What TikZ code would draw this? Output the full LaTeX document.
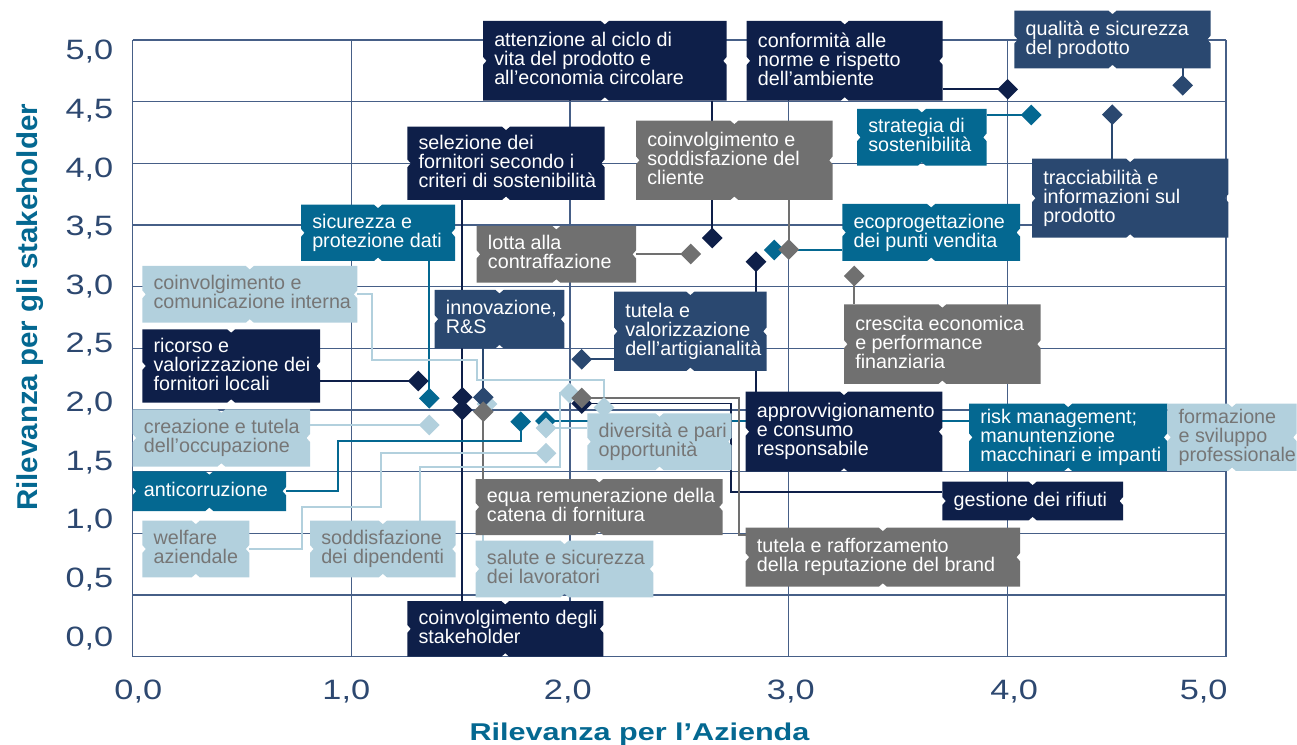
\documentclass[tikz,border=0pt]{standalone}
\usepackage{fontspec}
\setmainfont{Liberation Sans}
\usetikzlibrary{shapes.geometric,calc}
\pgfdeclarelayer{grid}\pgfdeclarelayer{lines}\pgfdeclarelayer{boxes}
\pgfsetlayers{grid,lines,boxes,main}
\definecolor{cNavy}{RGB}{14,31,73}
\definecolor{cSlate}{RGB}{42,72,112}
\definecolor{cTeal}{RGB}{4,104,145}
\definecolor{cGray}{RGB}{112,112,112}
\definecolor{cLight}{RGB}{178,208,221}
\definecolor{cLightTxt}{RGB}{118,118,118}
\definecolor{cGrid}{RGB}{70,95,135}
\definecolor{cTick}{RGB}{45,72,112}
\newcommand\boxfont{\fontsize{14.8pt}{14.25pt}\selectfont\lineskiplimit=-20pt}
\newcommand\tickfont{\fontsize{21pt}{21pt}\selectfont}
\newcommand\bstrut{\rule[-0.21em]{0pt}{0.94em}}
\newcommand\mkbox[7]{%
 \node[boxn, minimum width={(#5-#3)*0.75pt}, minimum height={(#6-#4)*0.75pt}] (#1) at (#3,#4) {};
 \begin{pgfonlayer}{boxes}
 \fill[#2] (#1.north west) -- ([xshift=-3pt]#1.north) -- ([yshift=-2.6pt]#1.north) -- ([xshift=3pt]#1.north)
   -- (#1.north east) -- ([yshift=3pt]#1.east) -- ([xshift=-2.6pt]#1.east) -- ([yshift=-3pt]#1.east)
   -- (#1.south east) -- ([xshift=3pt]#1.south) -- ([yshift=2.6pt]#1.south) -- ([xshift=-3pt]#1.south)
   -- (#1.south west) -- ([yshift=-3pt]#1.west) -- ([xshift=2.6pt]#1.west) -- ([yshift=3pt]#1.west) -- cycle;
 \end{pgfonlayer}
 \node[btext,#2,fill=none] (#1t) at ([xshift=8.25pt]#1.west) {\bstrut#7\bstrut};
}
\begin{document}
\begin{tikzpicture}[x=0.75pt,y=-0.75pt,
  boxn/.style={anchor=north west, inner sep=0pt, outer sep=0pt, shape=rectangle},
  btext/.style={anchor=west, inner sep=0pt, align=left, font=\boxfont},
  navyb/.style={fill=cNavy, text=white},
  slateb/.style={fill=cSlate, text=white},
  tealb/.style={fill=cTeal, text=white},
  grayb/.style={fill=cGray, text=white},
  lightb/.style={fill=cLight, text=cLightTxt},
  mk/.style={diamond, aspect=1, minimum width=15.5pt, minimum height=15.5pt, inner sep=0pt, outer sep=0pt, fill=#1},
  cn/.style={draw=#1, line width=1.4pt},
  gridl/.style={draw=cGrid, line width=1.1pt},
  tick/.style={font=\tickfont, text=cTick, inner sep=0pt},
  ttl/.style={font=\bfseries, text=cTeal, inner sep=0pt}]
\useasboundingbox (0,0) rectangle (1297,745);
% grid
\begin{pgfonlayer}{grid}
\foreach \i in {0,...,5} \draw[gridl] ({132.7+218.66*\i},40) -- ({132.7+218.66*\i},656.7);
\foreach \j in {0,...,10} \draw[gridl] (132.7,{656.7-61.67*\j}) -- (1226,{656.7-61.67*\j});
\end{pgfonlayer}
% boxes
\mkbox{att}{navyb}{483}{21}{726.7}{100.7}{attenzione al ciclo di\\vita del prodotto e\\all’economia circolare}
\mkbox{conf}{navyb}{746.7}{21}{942.7}{100.7}{conformità alle\\norme e rispetto\\dell’ambiente}
\mkbox{qual}{slateb}{1014.3}{10.7}{1210.7}{68.3}{qualità e sicurezza\\del prodotto}
\mkbox{sel}{navyb}{407.3}{126.7}{604.7}{200}{selezione dei\\fornitori secondo i\\criteri di sostenibilità}
\mkbox{cli}{grayb}{636}{120.7}{832.7}{200}{coinvolgimento e\\soddisfazione del\\cliente}
\mkbox{strat}{tealb}{857}{109}{986.7}{165.7}{strategia di\\sostenibilità}
\mkbox{trac}{slateb}{1032}{158.7}{1228.3}{237.7}{tracciabilità e\\informazioni sul\\prodotto}
\mkbox{sic}{tealb}{301}{204.7}{455}{261}{sicurezza e\\protezione dati}
\mkbox{lotta}{grayb}{476.7}{226}{636}{282.7}{lotta alla\\contraffazione}
\mkbox{eco}{tealb}{842.3}{204}{1020}{261}{ecoprogettazione\\dei punti vendita}
\mkbox{comi}{lightb}{142.3}{266}{357.3}{322.7}{coinvolgimento e\\comunicazione interna}
\mkbox{inno}{slateb}{434.7}{290}{564.3}{348.3}{innovazione,\\R\&S}
\mkbox{tval}{slateb}{614}{291.7}{766.7}{371}{tutela e\\valorizzazione\\dell’artigianalità}
\mkbox{cresc}{grayb}{844}{304.3}{1040.7}{384}{crescita economica\\e performance\\finanziaria}
\mkbox{ric}{navyb}{142.3}{329.3}{320}{402.7}{ricorso e\\valorizzazione dei\\fornitori locali}
\mkbox{crea}{lightb}{132.7}{409.3}{310}{466.7}{creazione e tutela\\dell’occupazione}
\mkbox{anti}{tealb}{132.7}{471.3}{286}{511}{anticorruzione}
\mkbox{welf}{lightb}{142.3}{520.7}{249.3}{577.3}{welfare\\aziendale}
\mkbox{sodd}{lightb}{310}{520.7}{455.7}{577.3}{soddisfazione\\dei dipendenti}
\mkbox{stak}{navyb}{407.3}{601}{603.3}{656.7}{coinvolgimento degli\\stakeholder}
\mkbox{equa}{grayb}{475.7}{479}{722.7}{535}{equa remunerazione della\\catena di fornitura}
\mkbox{sal}{lightb}{475.7}{540.7}{653.3}{597.3}{salute e sicurezza\\dei lavoratori}
\mkbox{div}{lightb}{587.3}{413.3}{731.7}{470}{diversità e pari\\opportunità}
\mkbox{appr}{navyb}{745.7}{391.7}{942.3}{471.7}{approvvigionamento\\e consumo\\responsabile}
\mkbox{tra}{grayb}{745.7}{527.7}{1020}{586.7}{tutela e rafforzamento\\della reputazione del brand}
\mkbox{risk}{tealb}{969}{403.7}{1167.3}{471}{risk management;\\manuntenzione\\macchinari e impanti}
\mkbox{form}{lightb}{1167.3}{403.7}{1296.7}{471}{formazione\\e sviluppo\\professionale}
\mkbox{gest}{navyb}{942.3}{481.7}{1123}{520.3}{gestione dei rifiuti}
% markers
\node[mk=cNavy] (dconf) at (1007.7,89.3) {};
\node[mk=cSlate] (dqual) at (1182.7,85.3) {};
\node[mk=cTeal] (dstrat) at (1031.3,115) {};
\node[mk=cSlate] (dtrac) at (1112.3,114.7) {};
\node[mk=cNavy] (datt) at (712.3,238) {};
\node[mk=cTeal] (deco) at (774.3,250) {};
\node[mk=cGray] (dcli) at (788.8,249.5) {};
\node[mk=cGray] (dlotta) at (690.7,254) {};
\node[mk=cNavy] (dappr) at (756,261.7) {};
\node[mk=cGray] (dcresc) at (854.3,276) {};
\node[mk=cSlate] (dtval) at (581.7,359.3) {};
\node[mk=cNavy] (dric) at (418.3,381) {};
\node[mk=cNavy] (dsel) at (462.3,397.3) {};
\node[mk=cNavy] (dstak) at (462.3,410) {};
\node[mk=cTeal] (dsic) at (429.3,398.3) {};
\node[mk=cLight] (dcrea) at (429.3,425) {};
\node[mk=cLight] (dsal) at (487,404) {};
\node[mk=cSlate] (dinno) at (483.3,397.3) {};
\node[mk=cGray] (dequa) at (483.3,411.7) {};
\node[mk=cTeal] (danti) at (520.7,421.7) {};
\node[mk=cTeal] (drisk) at (545.5,421) {};
\node[mk=cLight] (ddiv) at (546,428) {};
\node[mk=cLight] (dwelf) at (546,453.3) {};
\node[mk=cLight] (dsodd) at (569.5,393) {};
\node[mk=cNavy] (dgest) at (581.7,403.5) {};
\node[mk=cGray] (dtra) at (581.7,398) {};
\node[mk=cLight] (dcomi) at (604,407.5) {};
% bend points
\coordinate (kA) at (338.3,440.7);
\coordinate (kW1) at (301.7,506.7);
\coordinate (kW2) at (380.7,453.3);
\coordinate (kS1) at (420.4,467.3);
\coordinate (kS2) at (560,467.3);
\coordinate (kC1) at (372.3,360.3);
\coordinate (kC2) at (477,380);
\coordinate (kG) at (731,491.7);
\coordinate (kT) at (739,535);
% connectors
\begin{pgfonlayer}{lines}
\draw[cn=cNavy] (att.south -| datt) -- (datt.center);
\draw[cn=cNavy] (conf.east |- dconf) -- (dconf.center);
\draw[cn=cSlate] (qual.south -| dqual) -- (dqual.center);
\draw[cn=cTeal] (strat.east |- dstrat) -- (dstrat.center);
\draw[cn=cSlate] (trac.north -| dtrac) -- (dtrac.center);
\draw[cn=cTeal] (eco.west |- deco) -- (deco.center);
\draw[cn=cGray] (cli.south -| dcli) -- (dcli.center);
\draw[cn=cGray] (lotta.east |- dlotta) -- (dlotta.center);
\draw[cn=cNavy] (appr.north -| dappr) -- (dappr.center);
\draw[cn=cGray] (cresc.north -| dcresc) -- (dcresc.center);
\draw[cn=cSlate] (tval.west |- dtval) -- (dtval.center);
\draw[cn=cNavy] (ric.east |- dric) -- (dric.center);
\draw[cn=cNavy] (sel.south -| dsel) -- (dsel.center);
\draw[cn=cNavy] (stak.north -| dstak) -- (dstak.center);
\draw[cn=cTeal] (sic.south -| dsic) -- (dsic.center);
\draw[cn=cLight] (crea.east |- dcrea) -- (dcrea.center);
\draw[cn=cLight] (sal.north -| dequa) -- (dequa.center);
\draw[cn=cSlate] (inno.south -| dinno) -- (dinno.center);
\draw[cn=cGray] (equa.north -| dequa) -- (dequa.center);
\draw[cn=cTeal] (anti.east) -| (kA) -| (danti.center);
\draw[cn=cTeal] (drisk.center) -- (risk.west |- drisk);
\draw[cn=cLight] (ddiv.center) -- (div.west |- ddiv);
\draw[cn=cLight] (welf.east) -| (kW1) -| (kW2) -- (dwelf.center);
\draw[cn=cLight] (sodd.north -| kS1) -- (kS1) -- (kS2) |- (dsodd.center);
\draw[cn=cLight] (comi.east) -| (kC1) -| (kC2) -| (dcomi.center);
\draw[cn=cNavy] (dgest.center) -| (kG) -- (gest.west |- kG);
\draw[cn=cGray] (dtra.center) -| (kT) -- (tra.west |- kT);
\end{pgfonlayer}
% y ticks
\node[tick, anchor=base east] (ty0) at (113.5,646) {\scalebox{1.226}[1]{0,0}};
\node[tick, anchor=base east] (ty1) at (113.5,587.4) {\scalebox{1.226}[1]{0,5}};
\node[tick, anchor=base east] (ty2) at (113.5,528.8) {\scalebox{1.226}[1]{1,0}};
\node[tick, anchor=base east] (ty3) at (113.5,470.2) {\scalebox{1.226}[1]{1,5}};
\node[tick, anchor=base east] (ty4) at (113.5,411.6) {\scalebox{1.226}[1]{2,0}};
\node[tick, anchor=base east] (ty5) at (113.5,353) {\scalebox{1.226}[1]{2,5}};
\node[tick, anchor=base east] (ty6) at (113.5,294.4) {\scalebox{1.226}[1]{3,0}};
\node[tick, anchor=base east] (ty7) at (113.5,235.8) {\scalebox{1.226}[1]{3,5}};
\node[tick, anchor=base east] (ty8) at (113.5,177.2) {\scalebox{1.226}[1]{4,0}};
\node[tick, anchor=base east] (ty9) at (113.5,118.6) {\scalebox{1.226}[1]{4,5}};
\node[tick, anchor=base east] (ty10) at (113.5,60) {\scalebox{1.226}[1]{5,0}};
% x ticks
\node[tick, anchor=base] (tx0) at (138.3,699.5) {\scalebox{1.226}[1]{0,0}};
\node[tick, anchor=base] (tx1) at (346.3,699.5) {\scalebox{1.226}[1]{1,0}};
\node[tick, anchor=base] (tx2) at (567.8,699.5) {\scalebox{1.226}[1]{2,0}};
\node[tick, anchor=base] (tx3) at (790.8,699.5) {\scalebox{1.226}[1]{3,0}};
\node[tick, anchor=base] (tx4) at (1014.2,699.5) {\scalebox{1.226}[1]{4,0}};
\node[tick, anchor=base] (tx5) at (1203.7,699.5) {\scalebox{1.226}[1]{5,0}};
% axis titles
\node[ttl, anchor=base, font=\bfseries\fontsize{18.2pt}{18.2pt}\selectfont] (xt) at (639.5,740.7) {\scalebox{1.26}[1]{Rilevanza per l’Azienda}};
\node[ttl, anchor=base, rotate=90, font=\bfseries\fontsize{21.5pt}{21.5pt}\selectfont] (yt) at (37,307.5) {\scalebox{1.03}[1]{Rilevanza per gli stakeholder}};
\end{tikzpicture}
\end{document}
